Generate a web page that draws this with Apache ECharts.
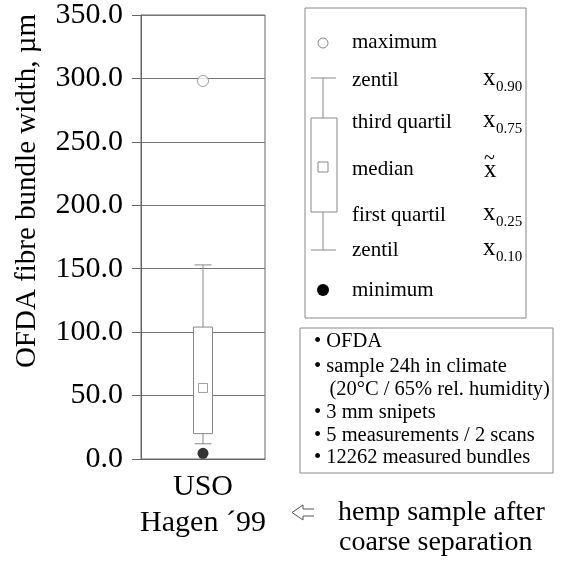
<!DOCTYPE html>
<html>
<head>
<meta charset="utf-8">
<script src="https://cdn.jsdelivr.net/npm/echarts@6/dist/echarts.min.js"></script>
<style>
  html, body { margin: 0; padding: 0; background: #fff; }
  #main { width: 581px; height: 562px; }
</style>
</head>
<body>
<div id="main"></div>
<script>
// box plot data
var categories = ['USO\nHagen \u00b499'];
var maximum = [298];
var zentil90 = [153];
var quartil3 = [104];
var median = [56];
var quartil1 = [20];
var zentil10 = [12];
var minimum = [4.5];

var serif = '"Liberation Serif", "DejaVu Serif", serif';
var grey = '#888';

var myChart = echarts.init(document.getElementById('main'));

function boxItem(params, api) {
    var x = api.value(0);
    var pLow = api.coord([x, api.value(1)]);
    var pQ1 = api.coord([x, api.value(2)]);
    var pQ3 = api.coord([x, api.value(3)]);
    var pHigh = api.coord([x, api.value(4)]);
    var cx = pLow[0], bw = 19, cw = 17;
    var st = { stroke: grey, lineWidth: 1, fill: null };
    return {
        type: 'group',
        children: [
            { type: 'line', shape: { x1: cx, y1: pHigh[1], x2: cx, y2: pQ3[1] }, style: st },
            { type: 'line', shape: { x1: cx - cw / 2, y1: pHigh[1], x2: cx + cw / 2, y2: pHigh[1] }, style: st },
            { type: 'rect', shape: { x: cx - bw / 2, y: pQ3[1], width: bw, height: pQ1[1] - pQ3[1] },
              style: { stroke: grey, lineWidth: 1, fill: '#fff' } },
            { type: 'line', shape: { x1: cx, y1: pQ1[1], x2: cx, y2: pLow[1] }, style: st },
            { type: 'line', shape: { x1: cx - cw / 2, y1: pLow[1], x2: cx + cw / 2, y2: pLow[1] }, style: st }
        ]
    };
}

var legendRows = [
    { y: 42, text: 'maximum' },
    { y: 80, text: 'zentil', sub: '0.90' },
    { y: 122, text: 'third quartil', sub: '0.75' },
    { y: 169, text: 'median', tilde: true },
    { y: 215, text: 'first quartil', sub: '0.25' },
    { y: 250, text: 'zentil', sub: '0.10' },
    { y: 290, text: 'minimum' }
];

var infoLines = [
    '\u2022 OFDA',
    '\u2022 sample 24h in climate',
    '   (20\u00b0C / 65% rel. humidity)',
    '\u2022 3 mm snipets',
    '\u2022 5 measurements / 2 scans',
    '\u2022 12262 measured bundles'
];
var infoY = [342, 367, 390, 413, 436, 458];

var graphics = [
    // y axis title
    { type: 'text', x: 27, y: 191, rotation: Math.PI / 2,
      style: { text: 'OFDA fibre bundle width, \u00b5m', font: '29px ' + serif, fill: '#000',
               align: 'center', verticalAlign: 'middle' } },
    // legend frame
    { type: 'rect', shape: { x: 305, y: 8, width: 221, height: 310 },
      style: { stroke: grey, lineWidth: 1, fill: null } },
    { type: 'circle', shape: { cx: 323, cy: 43, r: 5 }, style: { stroke: grey, fill: '#fff', lineWidth: 1 } },
    { type: 'line', shape: { x1: 311, y1: 78, x2: 336, y2: 78 }, style: { stroke: grey } },
    { type: 'line', shape: { x1: 323, y1: 78, x2: 323, y2: 118 }, style: { stroke: grey } },
    { type: 'rect', shape: { x: 311, y: 118, width: 26, height: 94 }, style: { stroke: grey, fill: '#fff' } },
    { type: 'rect', shape: { x: 318, y: 162, width: 10, height: 10 }, style: { stroke: grey, fill: '#fff' } },
    { type: 'line', shape: { x1: 323, y1: 212, x2: 323, y2: 250 }, style: { stroke: grey } },
    { type: 'line', shape: { x1: 311, y1: 250, x2: 336, y2: 250 }, style: { stroke: grey } },
    { type: 'circle', shape: { cx: 323, cy: 290, r: 6 }, style: { fill: '#000' } },
    // info frame
    { type: 'rect', shape: { x: 300, y: 328, width: 253, height: 145 },
      style: { stroke: grey, lineWidth: 1, fill: null } },
    // arrow
    { type: 'polyline',
      shape: { points: [[314, 509], [303, 509], [303, 505], [292, 512.5], [303, 520], [303, 516], [314, 516]] },
      style: { stroke: '#555', lineWidth: 1, fill: null } },
    { type: 'text', x: 338, y: 513,
      style: { text: 'hemp sample after', font: '28px ' + serif, fill: '#000', verticalAlign: 'middle' } },
    { type: 'text', x: 339, y: 543,
      style: { text: 'coarse separation', font: '28px ' + serif, fill: '#000', verticalAlign: 'middle' } }
];

legendRows.forEach(function (r) {
    graphics.push({ type: 'text', x: 352, y: r.y,
        style: { text: r.text, font: '21px ' + serif, fill: '#000', verticalAlign: 'middle' } });
    if (r.sub) {
        graphics.push({ type: 'text', x: 483, y: r.y - 2,
            style: { text: 'x', font: '25px ' + serif, fill: '#000', verticalAlign: 'middle' } });
        graphics.push({ type: 'text', x: 496, y: r.y + 7,
            style: { text: r.sub, font: '15px ' + serif, fill: '#000', verticalAlign: 'middle' } });
    }
    if (r.tilde) {
        graphics.push({ type: 'text', x: 484, y: r.y - 10,
            style: { text: '~', font: '20px ' + serif, fill: '#000', verticalAlign: 'middle' } });
        graphics.push({ type: 'text', x: 484, y: r.y + 1,
            style: { text: 'x', font: '25px ' + serif, fill: '#000', verticalAlign: 'middle' } });
    }
});

infoLines.forEach(function (t, i) {
    graphics.push({ type: 'text', x: 314, y: infoY[i],
        style: { text: t, font: '20.5px ' + serif, fill: '#000', verticalAlign: 'middle' } });
});

option = {
    backgroundColor: '#fff',
    animation: false,
    grid: { left: 141, right: 316, top: 15, bottom: 103, show: true, borderColor: '#666', borderWidth: 1 },
    xAxis: {
        type: 'category',
        data: categories,
        boundaryGap: true,
        axisLine: { show: true, lineStyle: { color: '#666' } },
        axisTick: { show: false },
        axisLabel: { fontFamily: serif, fontSize: 30, color: '#000', lineHeight: 36, margin: 10 }
    },
    yAxis: {
        type: 'value',
        min: 0,
        max: 350,
        interval: 50,
        axisLine: { show: true, lineStyle: { color: '#666' } },
        axisTick: { show: true, length: 9, lineStyle: { color: '#666' } },
        splitLine: { show: true, lineStyle: { color: '#777', width: 1 } },
        axisLabel: {
            fontFamily: serif, fontSize: 30, color: '#000', margin: 18, padding: [4, 0, 0, 0],
            formatter: function (v) { return v.toFixed(1); }
        }
    },
    graphic: graphics,
    series: [
        {
            type: 'custom',
            renderItem: boxItem,
            data: categories.map(function (c, i) {
                return [i, zentil10[i], quartil1[i], quartil3[i], zentil90[i]];
            }),
            z: 2
        },
        {
            type: 'scatter',
            data: categories.map(function (c, i) { return [i, maximum[i]]; }),
            symbol: 'circle', symbolSize: 11,
            itemStyle: { color: '#fff', borderColor: grey, borderWidth: 1 },
            z: 3
        },
        {
            type: 'scatter',
            data: categories.map(function (c, i) { return [i, median[i]]; }),
            symbol: 'rect', symbolSize: 9,
            itemStyle: { color: '#fff', borderColor: grey, borderWidth: 1 },
            z: 3
        },
        {
            type: 'scatter',
            data: categories.map(function (c, i) { return [i, minimum[i]]; }),
            symbol: 'circle', symbolSize: 11,
            itemStyle: { color: '#000' },
            z: 3
        }
    ]
};

myChart.setOption(option);
</script>
</body>
</html>
